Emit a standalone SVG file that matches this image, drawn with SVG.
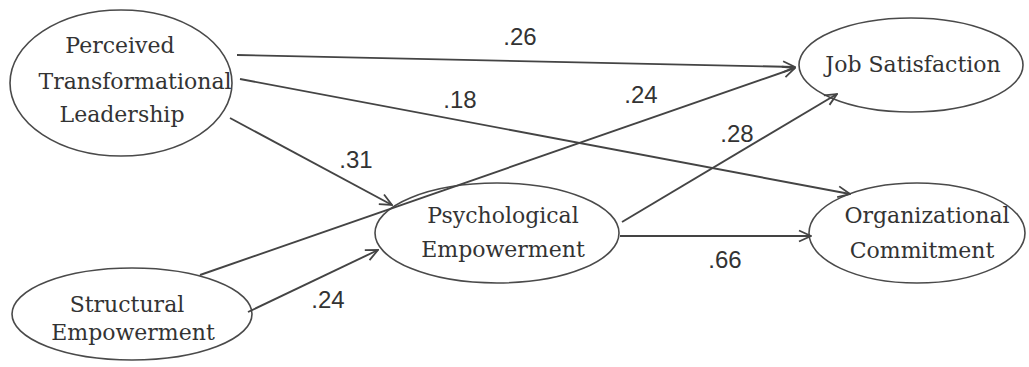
<svg xmlns="http://www.w3.org/2000/svg" width="1029" height="367" viewBox="0 0 1029 367">
<style>
.node ellipse{fill:#fff;stroke:#4a4a4a;stroke-width:1.6}
.node text{font-family:"DejaVu Serif","Liberation Serif",serif;font-size:22px;fill:#333;text-anchor:middle}
.conn path{fill:none;stroke:#444;stroke-width:1.9;marker-end:url(#arr)}
.lbl{font-family:"Liberation Sans",Arial,sans-serif;font-size:24px;fill:#333;text-anchor:middle}
</style>
<defs>
<marker id="arr" viewBox="0 0 14 14" refX="13" refY="7" markerWidth="14" markerHeight="14" markerUnits="userSpaceOnUse" orient="auto">
<path d="M1,1.5 L13,7 L1,12.5" fill="none" stroke="#444" stroke-width="1.8"/>
</marker>
</defs>
<rect width="1029" height="367" fill="#fff"/>
<g id="node-ptl" class="node">
<ellipse cx="121" cy="83" rx="111" ry="73"/>
<text x="120" y="53">Perceived</text>
<text x="135" y="89">Transformational</text>
<text x="122" y="122">Leadership</text>
</g>
<g id="node-se" class="node">
<ellipse cx="132" cy="314" rx="120" ry="46"/>
<text x="127" y="312">Structural</text>
<text x="133" y="340">Empowerment</text>
</g>
<g id="node-pe" class="node">
<ellipse cx="497" cy="233" rx="122" ry="50"/>
<text x="503" y="223">Psychological</text>
<text x="503" y="257">Empowerment</text>
</g>
<g id="node-js" class="node">
<ellipse cx="911" cy="65" rx="112" ry="47"/>
<text x="913" y="72">Job Satisfaction</text>
</g>
<g id="node-oc" class="node">
<ellipse cx="917" cy="233" rx="108" ry="50"/>
<text x="927" y="223">Organizational</text>
<text x="922" y="258">Commitment</text>
</g>
<g id="connectors" class="conn">
<path d="M237,55 L795,67"/>
<path d="M240,79 L850,194"/>
<path d="M230,118 L392,205"/>
<path d="M200,275 L795,68"/>
<path d="M248,312 L378,250"/>
<path d="M622,222 L837,94"/>
<path d="M620,236 L811,236"/>
</g>
<g id="labels">
<text class="lbl" x="520" y="45">.26</text>
<text class="lbl" x="641" y="103">.24</text>
<text class="lbl" x="460" y="108">.18</text>
<text class="lbl" x="737" y="142">.28</text>
<text class="lbl" x="356" y="168">.31</text>
<text class="lbl" x="328" y="308">.24</text>
<text class="lbl" x="725" y="268">.66</text>
</g>
</svg>
